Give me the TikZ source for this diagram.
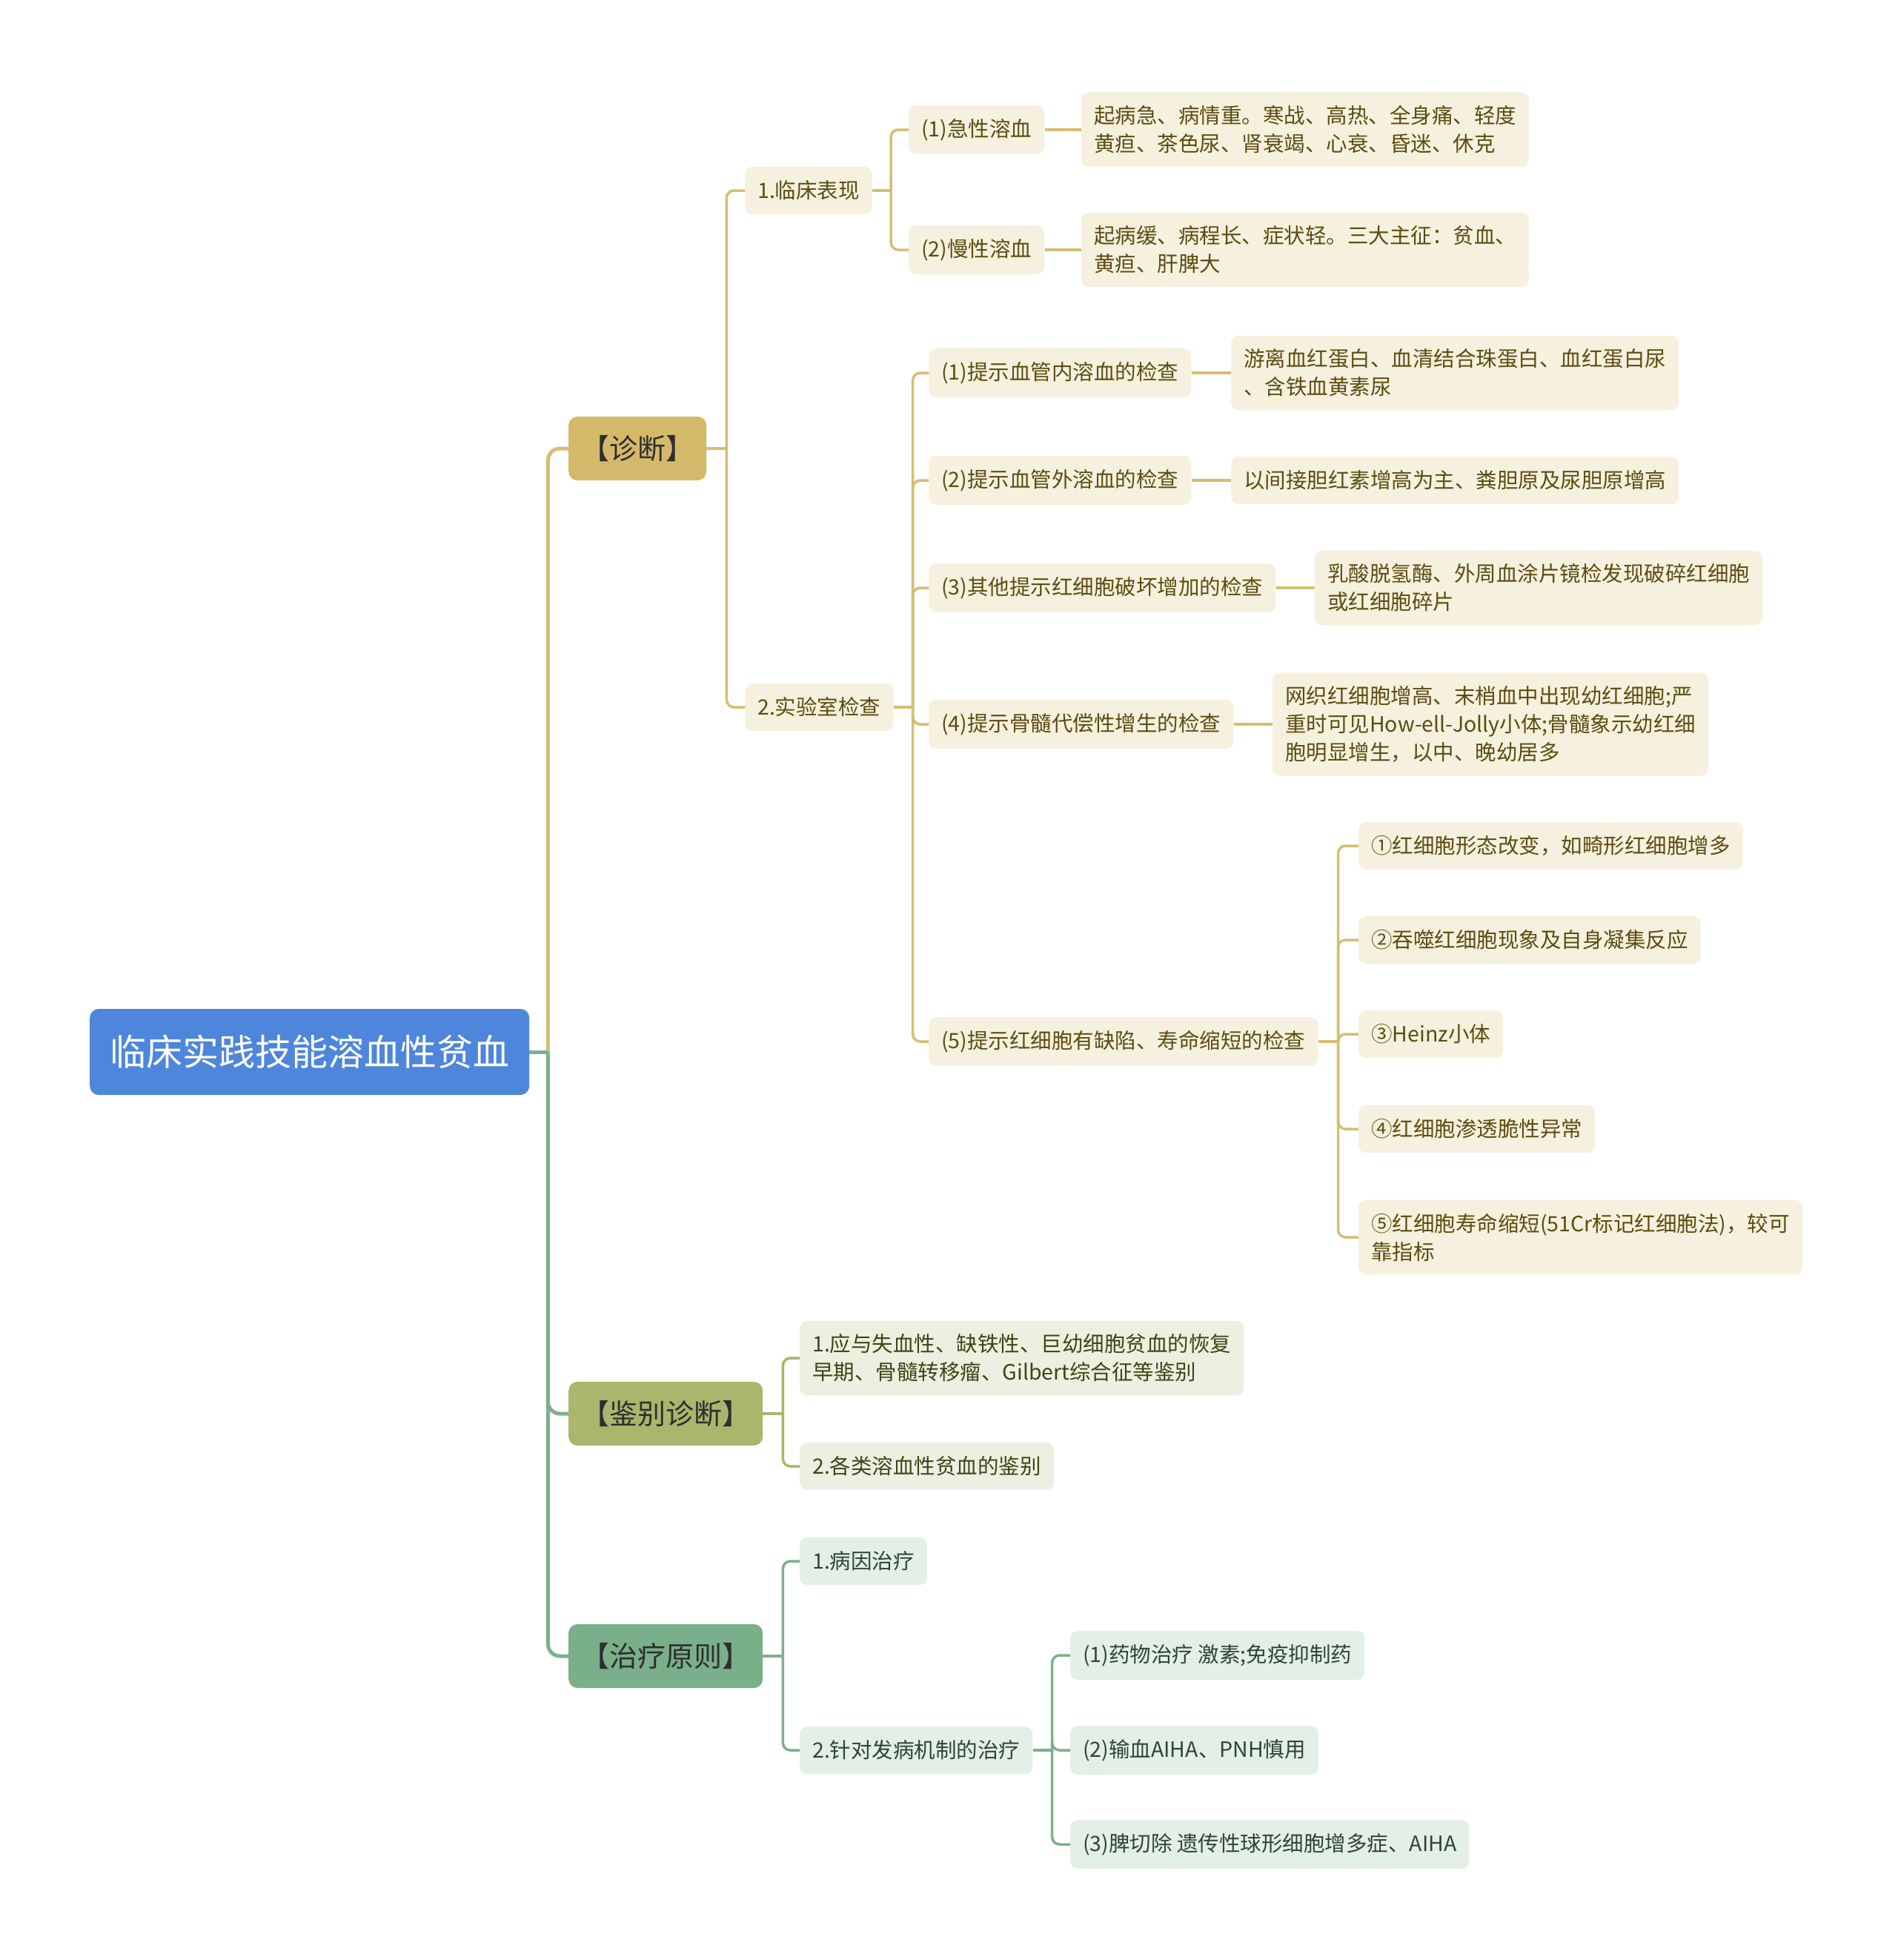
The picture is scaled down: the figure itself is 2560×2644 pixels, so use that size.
\documentclass[tikz,border=0pt]{standalone}
\usepackage{fontspec}
\newfontfamily\cjk{Noto Sans CJK SC}
\definecolor{rootblue}{HTML}{4E86DC}
\definecolor{topictext}{HTML}{2E2E2E}
\definecolor{diagfill}{HTML}{D4B96B}
\definecolor{difffill}{HTML}{ABB56C}
\definecolor{treatfill}{HTML}{79AF89}
\definecolor{goldfill}{HTML}{F5F1DE}
\definecolor{goldline}{HTML}{D6BE72}
\definecolor{goldtext}{HTML}{5E4B10}
\definecolor{olivefill}{HTML}{EFEFE1}
\definecolor{oliveline}{HTML}{AAB56C}
\definecolor{olivetext}{HTML}{3F4416}
\definecolor{greenfill}{HTML}{E4EFE7}
\definecolor{greenline}{HTML}{7DB08C}
\definecolor{greentext}{HTML}{2C4634}
\tikzset{
  rootbox/.style={fill=rootblue, text=white, rounded corners=12pt, inner xsep=27pt,
    minimum height=116pt, font=\cjk\fontsize{49}{58}\selectfont},
  topicbox/.style={rounded corners=12pt, inner xsep=17pt, minimum height=86pt,
    text=topictext, font=\cjk\fontsize{38}{46}\selectfont},
  leafbox/.style={rounded corners=10pt, inner xsep=17pt, inner ysep=18pt,
    minimum height=64pt, align=left, font=\cjk\fontsize{28.5}{38}\selectfont},
  goldleaf/.style={leafbox, fill=goldfill, text=goldtext},
  oliveleaf/.style={leafbox, fill=olivefill, text=olivetext},
  greenleaf/.style={leafbox, fill=greenfill, text=greentext},
  mainlink/.style={line width=5pt, rounded corners=16pt},
  sublink/.style={line width=3.5pt, rounded corners=10pt}
}
\begin{document}
\begin{tikzpicture}[x=1pt, y=-1pt]
    \fill[white] (0,0) rectangle (2560,2644);
    \useasboundingbox (0,0) rectangle (2560,2644);
    \node[rootbox, anchor=west] (root) at (121,1419) {临床实践技能溶血性贫血};
    \node[topicbox, fill=diagfill, anchor=west] (diag) at (767,605) {【诊断】};
    \node[topicbox, fill=difffill, anchor=west] (diff) at (767,1907) {【鉴别诊断】};
    \node[topicbox, fill=treatfill, anchor=west] (treat) at (767,2234) {【治疗原则】};
    \node[goldleaf, anchor=west] (clin) at (1005,257) {1.临床表现};
    \node[goldleaf, anchor=west] (lab) at (1005,954) {2.实验室检查};
    \node[goldleaf, anchor=west] (acute) at (1226,175) {(1)急性溶血};
    \node[goldleaf, anchor=west] (chronic) at (1226,337) {(2)慢性溶血};
    \node[goldleaf, anchor=west] (acuteL) at (1459,175)
        {起病急、病情重。寒战、高热、全身痛、轻度\\黄疸、茶色尿、肾衰竭、心衰、昏迷、休克};
    \node[goldleaf, anchor=west] (chronicL) at (1459,337)
        {起病缓、病程长、症状轻。三大主征：贫血、\\黄疸、肝脾大};
    \node[goldleaf, anchor=west] (lab1) at (1253,503) {(1)提示血管内溶血的检查};
    \node[goldleaf, anchor=west] (lab2) at (1253,648) {(2)提示血管外溶血的检查};
    \node[goldleaf, anchor=west] (lab3) at (1253,793) {(3)其他提示红细胞破坏增加的检查};
    \node[goldleaf, anchor=west] (lab4) at (1253,977) {(4)提示骨髓代偿性增生的检查};
    \node[goldleaf, anchor=west] (lab5) at (1253,1405) {(5)提示红细胞有缺陷、寿命缩短的检查};
    \node[goldleaf, anchor=west] (lab1L) at (1661,503)
        {游离血红蛋白、血清结合珠蛋白、血红蛋白尿\\、含铁血黄素尿};
    \node[goldleaf, anchor=west] (lab2L) at (1661,648) {以间接胆红素增高为主、粪胆原及尿胆原增高};
    \node[goldleaf, anchor=west] (lab3L) at (1774,793)
        {乳酸脱氢酶、外周血涂片镜检发现破碎红细胞\\或红细胞碎片};
    \node[goldleaf, anchor=west] (lab4L) at (1717,977)
        {网织红细胞增高、末梢血中出现幼红细胞;严\\重时可见How-ell-Jolly小体;骨髓象示幼红细\\胞明显增生，以中、晚幼居多};
    \node[goldleaf, anchor=west] (def1) at (1833,1141) {①红细胞形态改变，如畸形红细胞增多};
    \node[goldleaf, anchor=west] (def2) at (1833,1268) {②吞噬红细胞现象及自身凝集反应};
    \node[goldleaf, anchor=west] (def3) at (1833,1395) {③Heinz小体};
    \node[goldleaf, anchor=west] (def4) at (1833,1523) {④红细胞渗透脆性异常};
    \node[goldleaf, anchor=west] (def5) at (1833,1669)
        {⑤红细胞寿命缩短(51Cr标记红细胞法)，较可\\靠指标};
    \node[oliveleaf, anchor=west] (diff1) at (1079,1832)
        {1.应与失血性、缺铁性、巨幼细胞贫血的恢复\\早期、骨髓转移瘤、Gilbert综合征等鉴别};
    \node[oliveleaf, anchor=west] (diff2) at (1079,1978) {2.各类溶血性贫血的鉴别};
    \node[greenleaf, anchor=west] (treat1) at (1079,2106) {1.病因治疗};
    \node[greenleaf, anchor=west] (treat2) at (1079,2361) {2.针对发病机制的治疗};
    \node[greenleaf, anchor=west] (mech1) at (1444,2233) {(1)药物治疗 激素;免疫抑制药};
    \node[greenleaf, anchor=west] (mech2) at (1444,2361) {(2)输血AIHA、PNH慎用};
    \node[greenleaf, anchor=west] (mech3) at (1444,2488) {(3)脾切除 遗传性球形细胞增多症、AIHA};
    \coordinate (rootJ) at ([xshift=25pt]root.east);
    \coordinate (diagJ) at ([xshift=27pt]diag.east);
    \coordinate (clinJ) at ([xshift=25pt]clin.east);
    \coordinate (labJ) at ([xshift=26pt]lab.east);
    \coordinate (lab5J) at ([xshift=27pt]lab5.east);
    \coordinate (diffJ) at ([xshift=27pt]diff.east);
    \coordinate (treatJ) at ([xshift=27pt]treat.east);
    \coordinate (treat2J) at ([xshift=26pt]treat2.east);
    \draw[mainlink, goldline] (rootJ) |- (diag.west);
    \draw[mainlink, greenline] (root.east) -- (rootJ);
    \foreach \t in {diff,treat}
        \draw[mainlink, greenline] (rootJ) |- (\t.west);
    \draw[sublink, goldline] (diag.east) -- (diagJ);
    \foreach \c in {clin,lab}
        \draw[sublink, goldline] (diagJ) |- (\c.west);
    \draw[sublink, goldline] (clin.east) -- (clinJ);
    \foreach \c in {acute,chronic}
        \draw[sublink, goldline] (clinJ) |- (\c.west);
    \draw[sublink, goldline] (lab.east) -- (labJ);
    \foreach \c in {lab1,lab2,lab3,lab4,lab5}
        \draw[sublink, goldline] (labJ) |- (\c.west);
    \draw[sublink, goldline] (lab5.east) -- (lab5J);
    \foreach \c in {def1,def2,def3,def4,def5}
        \draw[sublink, goldline] (lab5J) |- (\c.west);
    \foreach \a/\b in {acute/acuteL,chronic/chronicL,lab1/lab1L,lab2/lab2L,lab3/lab3L,lab4/lab4L}
        \draw[sublink, goldline] (\a.east) -- (\b.west);
    \draw[sublink, oliveline] (diff.east) -- (diffJ);
    \foreach \c in {diff1,diff2}
        \draw[sublink, oliveline] (diffJ) |- (\c.west);
    \draw[sublink, greenline] (treat.east) -- (treatJ);
    \foreach \c in {treat1,treat2}
        \draw[sublink, greenline] (treatJ) |- (\c.west);
    \draw[sublink, greenline] (treat2.east) -- (treat2J);
    \foreach \c in {mech1,mech2,mech3}
        \draw[sublink, greenline] (treat2J) |- (\c.west);
\end{tikzpicture}
\end{document}
